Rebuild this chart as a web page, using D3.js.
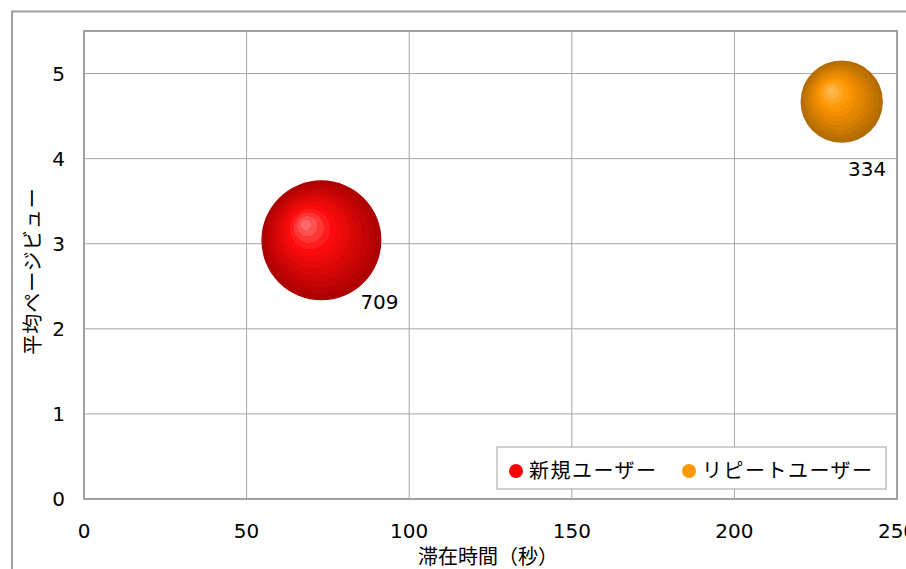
<!DOCTYPE html>
<html>
<head>
<meta charset="utf-8">
<script src="https://cdn.jsdelivr.net/npm/d3@7"></script>
<style>
  body { margin: 0; background: #fff; }
  text { font-family: "DejaVu Sans", "Noto Sans CJK JP", sans-serif; fill: #000; }
  .num { font-size: 20px; }
  .jp { font-family: "Noto Sans CJK JP", sans-serif; }
</style>
</head>
<body>
<div id="chart"></div>
<script>
// series data
const seriesNames = ['新規ユーザー', 'リピートユーザー'];
const stayTime = [73, 233];          // 滞在時間(秒)
const avgPageViews = [3.04, 4.67];   // 平均ページビュー
const userCounts = [709, 334];       // bubble size
const xTicks = [0, 50, 100, 150, 200, 250];
const yTicks = [0, 1, 2, 3, 4, 5];

const palette = [
  {light: '#ff6a6a', mid: '#ff0c0c', dark: '#a30000', legend: '#ff0000'},
  {light: '#ffb850', mid: '#ff9600', dark: '#aa6600', legend: '#ff9900'}
];
// label offset below the bubble (px), per series
const labelDrop = [9, 33];

const width = 906, height = 569;
const margin = {top: 31, right: 9, bottom: 70, left: 84};
const innerW = width - margin.left - margin.right;
const innerH = height - margin.top - margin.bottom;

const svg = d3.select('#chart').append('svg')
    .attr('width', width)
    .attr('height', height);

// outer chart frame (partially cut off at right/bottom)
svg.append('rect')
    .attr('x', 12).attr('y', 11.5)
    .attr('width', width + 20).attr('height', height + 20)
    .attr('fill', '#fff')
    .attr('stroke', '#a0a0a0')
    .attr('stroke-width', 2);

const x = d3.scaleLinear().domain([0, 250]).range([0, innerW]);
const y = d3.scaleLinear().domain([0, 5.5]).range([innerH, 0]);
const r = d3.scaleSqrt().domain([0, 709]).range([0, 60]);

const chart = svg.append('g')
    .attr('transform', `translate(${margin.left},${margin.top})`);

// gridlines
chart.append('g')
    .selectAll('line')
    .data(xTicks.slice(1, -1))
  .join('line')
    .attr('x1', d => x(d)).attr('x2', d => x(d))
    .attr('y1', 0).attr('y2', innerH)
    .attr('stroke', '#a6a6a6').attr('stroke-width', 1);

chart.append('g')
    .selectAll('line')
    .data(yTicks.slice(1))
  .join('line')
    .attr('x1', 0).attr('x2', innerW)
    .attr('y1', d => y(d)).attr('y2', d => y(d))
    .attr('stroke', '#a6a6a6').attr('stroke-width', 1);

// plot area border
chart.append('rect')
    .attr('x', 0).attr('y', 0)
    .attr('width', innerW).attr('height', innerH)
    .attr('fill', 'none')
    .attr('stroke', '#a0a0a0')
    .attr('stroke-width', 2);

// tick labels
chart.append('g')
    .selectAll('text')
    .data(xTicks)
  .join('text')
    .attr('class', 'num')
    .attr('x', d => x(d))
    .attr('y', innerH + 39)
    .attr('text-anchor', 'middle')
    .text(d => d);

chart.append('g')
    .selectAll('text')
    .data(yTicks)
  .join('text')
    .attr('class', 'num')
    .attr('x', -19)
    .attr('y', d => y(d))
    .attr('dy', '0.36em')
    .attr('text-anchor', 'end')
    .text(d => d);

// axis titles
svg.append('text')
    .attr('class', 'jp')
    .attr('x', 488)
    .attr('y', 564)
    .attr('text-anchor', 'middle')
    .style('font-size', '20px')
    .text('滞在時間（秒）');

svg.append('text')
    .attr('class', 'jp')
    .attr('transform', 'translate(40,271) rotate(-90)')
    .attr('text-anchor', 'middle')
    .style('font-size', '20px')
    .style('letter-spacing', '1px')
    .text('平均ページビュー');

// bubble gradients, stepped to mimic the banded shading
const defs = svg.append('defs');
const bands = 12;
palette.forEach((p, i) => {
  const g = defs.append('radialGradient')
      .attr('id', `bubble-grad-${i}`)
      .attr('cx', '0.5').attr('cy', '0.5').attr('r', '0.5')
      .attr('fx', '0.36').attr('fy', '0.36');
  const inner = d3.interpolateRgb(p.light, p.mid);
  const outer = d3.interpolateRgb(p.mid, p.dark);
  for (let k = 0; k < bands; k++) {
    const t0 = k / bands, t1 = (k + 1) / bands;
    const c = t0 < 0.3 ? inner(t0 / 0.3) : outer((t0 - 0.3) / 0.7);
    g.append('stop').attr('offset', `${t0 * 100}%`).attr('stop-color', c);
    g.append('stop').attr('offset', `${t1 * 100}%`).attr('stop-color', c);
  }
});

const bubbles = seriesNames.map((name, i) => ({
  name, x: stayTime[i], y: avgPageViews[i], size: userCounts[i], i
}));

chart.selectAll('.bubble')
    .data(bubbles)
  .join('circle')
    .attr('class', 'bubble')
    .attr('cx', d => x(d.x))
    .attr('cy', d => y(d.y))
    .attr('r', d => r(d.size))
    .attr('fill', d => `url(#bubble-grad-${d.i})`);

chart.selectAll('.bubble-label')
    .data(bubbles)
  .join('text')
    .attr('class', 'num bubble-label')
    .attr('x', d => Math.min(x(d.x) + r(d.size) * 0.65, innerW - 49))
    .attr('y', d => y(d.y) + r(d.size) + labelDrop[d.i])
    .text(d => d.size);

// legend
const legend = svg.append('g').attr('transform', 'translate(497,447)');
legend.append('rect')
    .attr('width', 389).attr('height', 42)
    .attr('fill', '#fff')
    .attr('stroke', '#a0a0a0')
    .attr('stroke-width', 1);

const legendX = [19, 192];
const item = legend.selectAll('.legend-item')
    .data(bubbles)
  .join('g')
    .attr('class', 'legend-item')
    .attr('transform', d => `translate(${legendX[d.i]},24)`);

item.append('circle')
    .attr('r', 7)
    .attr('fill', d => palette[d.i].legend);

item.append('text')
    .attr('class', 'jp')
    .attr('x', 13)
    .attr('dy', '0.36em')
    .style('font-size', '20px')
    .style('letter-spacing', '1.5px')
    .text(d => d.name);
</script>
</body>
</html>
